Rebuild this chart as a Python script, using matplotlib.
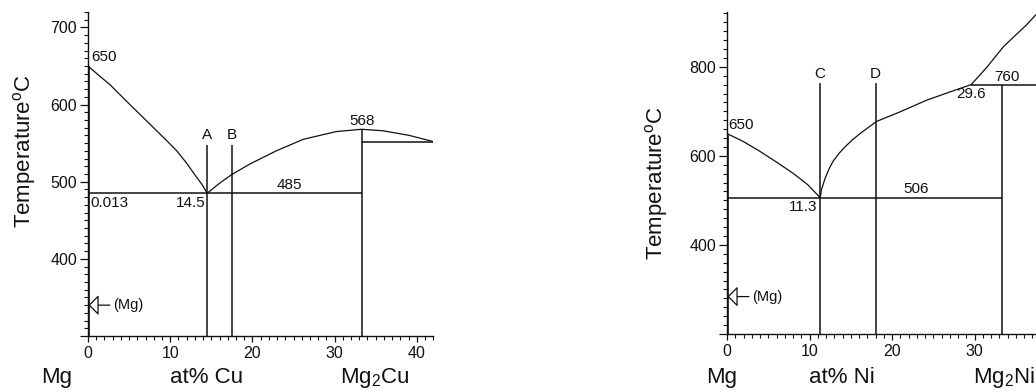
import matplotlib
matplotlib.use("Agg")
import matplotlib.pyplot as plt
from matplotlib.ticker import MultipleLocator

plt.rcParams["font.family"] = ["Liberation Sans", "DejaVu Sans"]
plt.rcParams["mathtext.fontset"] = "custom"
plt.rcParams["mathtext.rm"] = "Liberation Sans"
plt.rcParams["mathtext.it"] = "Liberation Sans:italic"

# ---------------- Mg-Cu system ----------------
cu_liq_left_x = [0, 1.3, 2.65, 5.0, 7.5, 9.5, 10.8, 12.0, 13.2, 13.9, 14.5]
cu_liq_left_t = [650, 638, 626, 601, 575, 554, 540, 524, 506, 496, 485]
cu_liq_right_x = [14.5, 16.0, 17.45, 19.7, 22.9, 26.2, 30.2, 33.3, 35.9, 39.1, 42.0]
cu_liq_right_t = [485, 498, 509, 523, 540, 555, 565, 568, 566, 560, 552]
cu_eutectic_t = 485
cu_eutectic_x = 14.5
cu_solubility = 0.013
cu_compound_x = 33.3
cu_compound_tm = 568
cu_right_eutectic_t = 552
cu_alloys = {"A": 14.5, "B": 17.5}
cu_alloy_top = 548
cu_mg_solid_t = 340
cu_tmin, cu_tmax = 300, 720
cu_xmax = 42

# ---------------- Mg-Ni system ----------------
ni_liq_left_x = [0, 2.0, 4.0, 6.0, 8.0, 9.8, 11.3]
ni_liq_left_t = [650, 632, 610, 586, 561, 535, 506]
ni_liq_right_x = [11.3, 11.45, 11.9, 12.4, 12.9, 13.6, 14.3, 15.2, 16.2, 18.1,
                  21.0, 24.2, 27.1, 29.6]
ni_liq_right_t = [506, 524, 550, 572, 589, 606, 620, 636, 651, 677,
                  699, 725, 744, 760]
ni_liq_upper_x = [29.6, 31.5, 33.5, 36.3, 37.4, 38.2]
ni_liq_upper_t = [760, 799, 845, 894, 916, 930]
ni_eutectic_t = 506
ni_eutectic_x = 11.3
ni_compound_x = 33.3
ni_peritectic_t = 760
ni_peritectic_x = 29.6
ni_alloys = {"C": 11.3, "D": 18.0}
ni_alloy_top = 764
ni_mg_solid_t = 284
ni_tmin, ni_tmax = 200, 923
ni_xmax = 37.6

LW = 0.9
INK = "#111111"
FS_TICK = 11.5
FS_NOTE = 11
FS_BIG = 16

W, H = 1036, 392
fig = plt.figure(figsize=(W / 100, H / 100), dpi=100)


def px_axes(left, right, top, bottom):
    return fig.add_axes([left / W, 1 - bottom / H, (right - left) / W, (bottom - top) / H])


def style(ax, xmax, tmin, tmax, xmajor, ymajor, yminor, ylabels):
    ax.set_xlim(0, xmax)
    ax.set_ylim(tmin, tmax)
    ax.set_xticks(xmajor)
    ax.xaxis.set_minor_locator(MultipleLocator(1))
    ax.set_yticks(ymajor)
    ax.set_yticklabels(ylabels)
    ax.yaxis.set_minor_locator(MultipleLocator(yminor))
    for s in ("top", "right"):
        ax.spines[s].set_visible(False)
    for s in ("left", "bottom"):
        ax.spines[s].set_linewidth(1.0)
        ax.spines[s].set_color(INK)
    ax.tick_params(axis="both", which="major", direction="out", length=6, width=0.9,
                   labelsize=FS_TICK, colors=INK, pad=2)
    ax.tick_params(axis="both", which="minor", direction="out", length=3, width=0.8, colors=INK)
    ax.tick_params(axis="x", which="major", length=4, pad=3)
    ax.tick_params(axis="x", which="minor", length=3)
    ax.patch.set_alpha(0)


def mg_arrow(ax, t):
    ax.annotate("(Mg)", xy=(0.05, t), xytext=(3.0, t), fontsize=10.5, color=INK,
                ha="left", va="center",
                arrowprops=dict(arrowstyle="-|>,head_length=0.6,head_width=0.6",
                                fc="white", ec=INK, lw=0.9, shrinkA=0, shrinkB=0))


# ---------- left panel ----------
ax1 = px_axes(88, 88 + 42 * 8.22, 12, 336)
style(ax1, cu_xmax, cu_tmin, cu_tmax, [0, 10, 20, 30, 40], [300, 400, 500, 600, 700],
      10, ["", "400", "500", "600", "700"])
ax1.plot(cu_liq_left_x, cu_liq_left_t, color=INK, lw=LW)
ax1.plot(cu_liq_right_x, cu_liq_right_t, color=INK, lw=LW)
ax1.hlines(cu_eutectic_t, 0, cu_compound_x, color=INK, lw=1.1)
ax1.vlines(cu_compound_x, cu_tmin, cu_compound_tm, color=INK, lw=1.1)
ax1.hlines(cu_right_eutectic_t, cu_compound_x, cu_xmax, color=INK, lw=1.1)
ax1.vlines(0, cu_tmin, cu_liq_left_t[0], color=INK, lw=2.6)
for name, x in cu_alloys.items():
    ax1.vlines(x, cu_tmin, cu_alloy_top, color=INK, lw=1.1)
    ax1.text(x, cu_alloy_top + 3, name, ha="center", va="bottom", fontsize=FS_NOTE, color=INK)
ax1.text(0.4, cu_liq_left_t[0] + 2, str(cu_liq_left_t[0]), ha="left", va="bottom",
         fontsize=FS_NOTE, color=INK)
ax1.text(cu_compound_x + 0.1, cu_compound_tm + 1, str(cu_compound_tm), ha="center",
         va="bottom", fontsize=FS_NOTE, color=INK)
ax1.text(24.5, cu_eutectic_t + 2, str(cu_eutectic_t), ha="center", va="bottom",
         fontsize=FS_NOTE, color=INK)
ax1.text(0.3, cu_eutectic_t - 4, str(cu_solubility), ha="left", va="top",
         fontsize=FS_NOTE, color=INK)
ax1.text(cu_eutectic_x - 0.2, cu_eutectic_t - 4, str(cu_eutectic_x), ha="right", va="top",
         fontsize=FS_NOTE, color=INK)
mg_arrow(ax1, cu_mg_solid_t)

# ---------- right panel (runs off the right edge of the figure) ----------
ax2 = px_axes(727, 727 + ni_xmax * 8.25, 12, 334)
style(ax2, ni_xmax, ni_tmin, ni_tmax, [0, 10, 20, 30], [200, 400, 600, 800],
      20, ["", "400", "600", "800"])
ax2.plot(ni_liq_left_x, ni_liq_left_t, color=INK, lw=LW)
ax2.plot(ni_liq_right_x, ni_liq_right_t, color=INK, lw=LW)
ax2.plot(ni_liq_upper_x, ni_liq_upper_t, color=INK, lw=LW)
ax2.hlines(ni_eutectic_t, 0, ni_compound_x, color=INK, lw=1.1)
ax2.vlines(ni_compound_x, ni_tmin, ni_peritectic_t, color=INK, lw=1.1)
ax2.hlines(ni_peritectic_t, ni_peritectic_x, ni_xmax, color=INK, lw=1.1)
ax2.vlines(0, ni_tmin, ni_liq_left_t[0], color=INK, lw=2.6)
for name, x in ni_alloys.items():
    ax2.vlines(x, ni_tmin, ni_alloy_top, color=INK, lw=1.1)
    ax2.text(x, ni_alloy_top + 5, name, ha="center", va="bottom", fontsize=FS_NOTE, color=INK)
ax2.text(0.2, ni_liq_left_t[0] + 3, str(ni_liq_left_t[0]), ha="left", va="bottom",
         fontsize=FS_NOTE, color=INK)
ax2.text(ni_eutectic_x - 0.4, ni_eutectic_t - 6, str(ni_eutectic_x), ha="right", va="top",
         fontsize=FS_NOTE, color=INK)
ax2.text(22.9, ni_eutectic_t + 3, str(ni_eutectic_t), ha="center", va="bottom",
         fontsize=FS_NOTE, color=INK)
ax2.text(ni_peritectic_x, ni_peritectic_t - 6, str(ni_peritectic_x), ha="center", va="top",
         fontsize=FS_NOTE, color=INK)
ax2.text(33.9, ni_peritectic_t + 2, str(ni_peritectic_t), ha="center", va="bottom",
         fontsize=FS_NOTE, color=INK)
mg_arrow(ax2, ni_mg_solid_t)

# ---------- axis captions ----------
ylab = "Temperature$^{\\rm o}$C"
fig.text(25 / W, 1 - 151 / H, ylab, rotation=90, ha="center", va="center",
         fontsize=FS_BIG, color=INK)
fig.text(656 / W, 1 - 183 / H, ylab, rotation=90, ha="center", va="center",
         fontsize=FS_BIG, color=INK)

base = 1 - 383 / H
for x, s in [(57, "Mg"), (207, "at% Cu"), (375, "Mg$_2$Cu"),
             (722, "Mg"), (842, "at% Ni")]:
    fig.text(x / W, base, s, ha="center", va="baseline", fontsize=FS_BIG, color=INK)
fig.text(1035 / W, base, "Mg$_2$Ni", ha="right", va="baseline", fontsize=FS_BIG, color=INK)

fig.savefig("out.png", dpi=100)
